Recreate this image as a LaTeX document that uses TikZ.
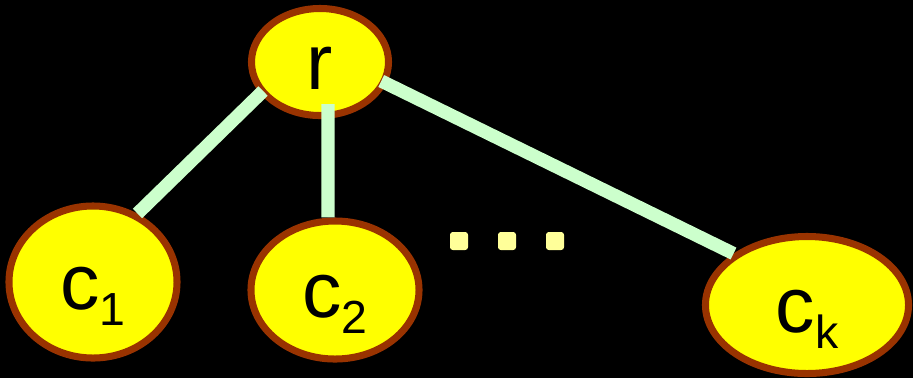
\documentclass[tikz,border=0pt]{standalone}
\usepackage{fontspec}
\setmainfont{Liberation Sans}
\usetikzlibrary{shapes.geometric, positioning, calc}
\definecolor{myyellow}{RGB}{255,255,0}
\definecolor{mybrown}{RGB}{153,51,0}
\definecolor{mymint}{RGB}{204,255,204}
\definecolor{mydot}{RGB}{255,255,153}
\newcommand{\csub}[1]{{\fontsize{33}{33}\selectfont\raisebox{-0.42cm}{#1}}}
\tikzset{
  treenode/.style={ellipse, draw=mybrown, fill=myyellow, line width=5pt,
    inner sep=0pt, text height=1.35cm, text depth=0pt,
    font=\fontsize{56}{60}\selectfont},
  edge/.style={color=mymint, line width=9.4pt, line cap=butt},
  dotbox/.style={rectangle, fill=mydot, minimum size=0.45cm,
    inner sep=0pt, rounded corners=2pt}
}
\begin{document}
\begin{tikzpicture}[x=0.025cm, y=-0.025cm]
  \fill[black] (0,0) rectangle (913,378);
  \useasboundingbox (0,0) rectangle (913,378);
  % tree nodes
  \node[treenode, minimum width=3.425cm, minimum height=2.675cm] (r) at (320,62) {r};
  \node[treenode, minimum width=4.2cm, minimum height=3.8cm] (c1) at (93,282) {c\csub{1}};
  \node[treenode, minimum width=4.2cm, minimum height=3.45cm] (c2) at (335,290) {c\csub{2}};
  \node[treenode, minimum width=5.075cm, minimum height=3.425cm] (ck) at (807,305) {c\csub{k}};
  % ellipsis
  \foreach \x [count=\i] in {459,507,555}
    \node[dotbox] (dot\i) at (\x,241) {};
  % edges
  \draw[edge, shorten <=-0.1cm] (r.208) -- (c1.57);
  \draw[edge, shorten <=-0.375cm] ([xshift=0.2cm]r.south) -- ([xshift=-0.175cm]c2.north);
  \draw[edge, shorten <=-0.15cm] (r.-18) -- (ck.145);
\end{tikzpicture}
\end{document}
